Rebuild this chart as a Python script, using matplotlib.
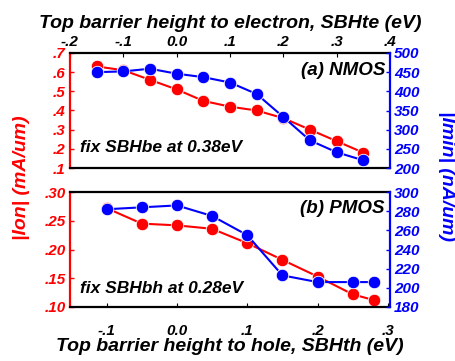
import matplotlib
matplotlib.use("Agg")
import matplotlib.pyplot as plt

plt.rcParams['font.family'] = ['Liberation Sans', 'DejaVu Sans']
plt.rcParams['font.weight'] = 'bold'
plt.rcParams['font.style'] = 'italic'
plt.rcParams['axes.labelweight'] = 'bold'

RED = '#ff0000'
BLUE = '#0000ff'

# NMOS data
n_x = [-0.15, -0.10, -0.05, 0.0, 0.05, 0.10, 0.15, 0.20, 0.25, 0.30, 0.35]
n_ion = [0.63, 0.61, 0.56, 0.51, 0.45, 0.42, 0.40, 0.36, 0.30, 0.24, 0.18]
n_imin = [450, 452, 459, 446, 437, 423, 393, 333, 272, 241, 220]

# PMOS data
p_x = [-0.10, -0.05, 0.0, 0.05, 0.10, 0.15, 0.20, 0.25, 0.28]
p_ion = [0.272, 0.245, 0.242, 0.236, 0.211, 0.182, 0.153, 0.122, 0.112]
p_imin = [282, 284, 286, 275, 255, 213, 206, 206, 206]

n_xticks = [-0.2, -0.1, 0.0, 0.1, 0.2, 0.3, 0.4]
n_xlabels = ['-.2', '-.1', '0.0', '.1', '.2', '.3', '.4']
n_lticks = [0.1, 0.2, 0.3, 0.4, 0.5, 0.6, 0.7]
n_llabels = ['.1', '.2', '.3', '.4', '.5', '.6', '.7']
n_rticks = [200, 250, 300, 350, 400, 450, 500]

p_xticks = [-0.1, 0.0, 0.1, 0.2, 0.3]
p_xlabels = ['-.1', '0.0', '.1', '.2', '.3']
p_lticks = [0.10, 0.15, 0.20, 0.25, 0.30]
p_llabels = ['.10', '.15', '.20', '.25', '.30']
p_rticks = [180, 200, 220, 240, 260, 280, 300]

W, H = 456, 361
fig = plt.figure(figsize=(W / 100, H / 100), dpi=100)

def rect(l, t, r, b):
    return [l / W, 1 - b / H, (r - l) / W, (b - t) / H]

FS = 11
MS = 9
TFS = 14

def style(ax, ax2):
    ax.spines['left'].set_color(RED)
    ax.spines['left'].set_linewidth(1.6)
    ax.spines['right'].set_visible(False)
    ax2.spines['right'].set_color(BLUE)
    ax2.spines['right'].set_linewidth(1.6)
    ax2.spines['left'].set_visible(False)
    for s in ['top', 'bottom']:
        ax.spines[s].set_linewidth(1.6)
        ax2.spines[s].set_visible(False)
    ax.tick_params(axis='y', colors=RED, direction='in', length=3, width=1, labelsize=FS, pad=3)
    ax2.tick_params(axis='y', colors=BLUE, direction='in', length=3, width=1, labelsize=FS, pad=3)
    for t in ax.get_xticklabels() + ax.get_yticklabels() + ax2.get_yticklabels():
        t.set_fontweight('bold')
        t.set_fontstyle('italic')

# Top panel (NMOS)
ax1 = fig.add_axes(rect(70, 53, 390, 168))
ax1b = ax1.twinx()
ax1.plot(n_x, n_ion, '-o', color=RED, lw=1.5, ms=MS, mec='white', mew=0.6)
ax1b.plot(n_x, n_imin, '-o', color=BLUE, lw=1.5, ms=MS, mec='white', mew=0.6)
ax1.set_xlim(-0.2, 0.4)
ax1.set_ylim(0.1, 0.7)
ax1b.set_ylim(200, 500)
ax1.set_xticks(n_xticks)
ax1.set_xticklabels(n_xlabels)
ax1.xaxis.tick_top()
ax1.tick_params(axis='x', direction='in', length=3, labelsize=FS, pad=3)
ax1.set_yticks(n_lticks)
ax1.set_yticklabels(n_llabels)
ax1b.set_yticks(n_rticks)
ax1b.set_yticklabels([str(v) for v in n_rticks])
style(ax1, ax1b)
ax1.set_xlabel('Top barrier height to electron, SBHte (eV)', fontsize=TFS, fontweight='bold', labelpad=5)
ax1.xaxis.set_label_position('top')
ax1.text(0.984, 0.85, '(a) NMOS', transform=ax1.transAxes, ha='right', va='center', fontsize=13.5, fontweight='bold')
ax1.text(0.03, 0.18, 'fix SBHbe at 0.38eV', transform=ax1.transAxes, ha='left', va='center', fontsize=12.5, fontweight='bold')

# Bottom panel (PMOS)
ax2 = fig.add_axes(rect(70, 192, 390, 307))
ax2b = ax2.twinx()
ax2.plot(p_x, p_ion, '-o', color=RED, lw=1.5, ms=MS, mec='white', mew=0.6)
ax2b.plot(p_x, p_imin, '-o', color=BLUE, lw=1.5, ms=MS, mec='white', mew=0.6)
ax2.set_xlim(-0.152, 0.303)
ax2.set_ylim(0.10, 0.30)
ax2b.set_ylim(180, 300)
ax2.set_xticks(p_xticks)
ax2.set_xticklabels(p_xlabels)
ax2.tick_params(axis='x', direction='in', length=3, labelsize=FS, pad=12)
ax2.set_yticks(p_lticks)
ax2.set_yticklabels(p_llabels)
ax2b.set_yticks(p_rticks)
ax2b.set_yticklabels([str(v) for v in p_rticks])
style(ax2, ax2b)
ax2.set_xlabel('Top barrier height to hole, SBHth (eV)', fontsize=TFS, fontweight='bold', labelpad=0)
ax2.text(0.984, 0.86, '(b) PMOS', transform=ax2.transAxes, ha='right', va='center', fontsize=13.5, fontweight='bold')
ax2.text(0.03, 0.165, 'fix SBHbh at 0.28eV', transform=ax2.transAxes, ha='left', va='center', fontsize=12.5, fontweight='bold')

fig.text(22 / W, 1 - 178 / H, '|Ion| (mA/um)', rotation=90, color=RED, ha='center', va='center', fontsize=TFS, fontweight='bold')
fig.text(447 / W, 1 - 176 / H, '|Imin| (nA/um)', rotation=270, color=BLUE, ha='center', va='center', fontsize=TFS, fontweight='bold')

fig.savefig('out.png', dpi=100)
